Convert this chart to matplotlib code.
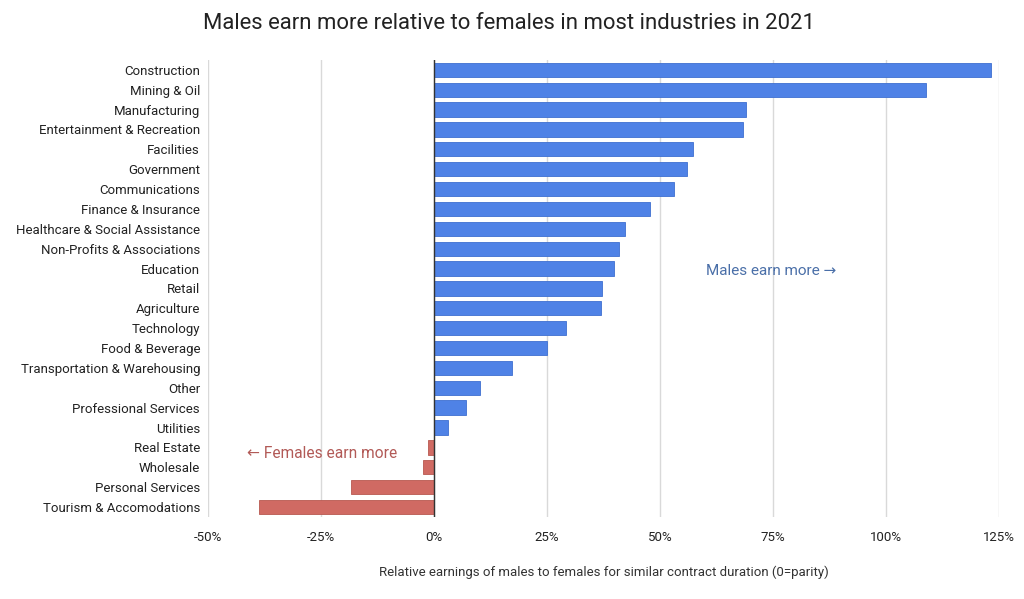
import matplotlib
matplotlib.use("Agg")
import matplotlib.pyplot as plt
from matplotlib.ticker import FixedLocator

plt.rcParams['font.family'] = ['Roboto', 'DejaVu Sans']

industries = ["Construction", "Mining & Oil", "Manufacturing", "Entertainment & Recreation",
              "Facilities", "Government", "Communications", "Finance & Insurance",
              "Healthcare & Social Assistance", "Non-Profits & Associations", "Education",
              "Retail", "Agriculture", "Technology", "Food & Beverage",
              "Transportation & Warehousing", "Other", "Professional Services", "Utilities",
              "Real Estate", "Wholesale", "Personal Services", "Tourism & Accomodations"]
relative_pct = [123.4, 108.9, 69.1, 68.4, 57.3, 56.1, 53.1, 47.8, 42.2, 40.9, 39.8,
                37.1, 36.9, 29.3, 24.9, 17.3, 10.2, 7.1, 3.1, -1.4, -2.5, -18.4, -38.8]
tick_values = [-50, -25, 0, 25, 50, 75, 100, 125]
tick_labels = ["-50%", "-25%", "0%", "25%", "50%", "75%", "100%", "125%"]

blue = "#4f82e6"
red = "#d06a63"

fig = plt.figure(figsize=(10.24, 5.99), dpi=100)
ax = fig.add_axes([0.2035, 0.137, 0.7716, 0.763])

ypos = list(range(len(industries)))
colors = [blue if v >= 0 else red for v in relative_pct]
edges = ["#3f6fd0" if v >= 0 else "#b85850" for v in relative_pct]
ax.barh(ypos, relative_pct, height=0.72, color=colors, edgecolor=edges, linewidth=0.6, zorder=3)

ax.set_xlim(-50, 125)
ax.set_ylim(len(industries) - 0.5, -0.5)
ax.xaxis.set_major_locator(FixedLocator(tick_values))
ax.set_xticklabels(tick_labels)
ax.set_yticks(ypos)
ax.set_yticklabels(industries)
ax.tick_params(axis='both', length=0, labelsize=9.5, colors="#222222")
ax.tick_params(axis='x', pad=10)
ax.tick_params(axis='y', pad=6)
ax.grid(axis='x', color="#d9d9d9", linewidth=1.0, zorder=0)
for s in ax.spines.values():
    s.set_visible(False)
ax.axvline(0, color="#333333", linewidth=1.0, zorder=4)

ax.set_xlabel("Relative earnings of males to females for similar contract duration (0=parity)",
              fontsize=9.5, color="#333333", labelpad=16)
fig.suptitle("Males earn more relative to females in most industries in 2021",
             x=0.497, y=0.978, fontsize=15.9, color="#222222")

ax.text(60.3, 10.1, "Males earn more →", fontsize=11, color="#4a6fa8", va='center', ha='left')
ax.text(-41.5, 19.3, "← Females earn more", fontsize=11.2, color="#b25a57", va='center', ha='left')

fig.savefig("out.png", dpi=100)
